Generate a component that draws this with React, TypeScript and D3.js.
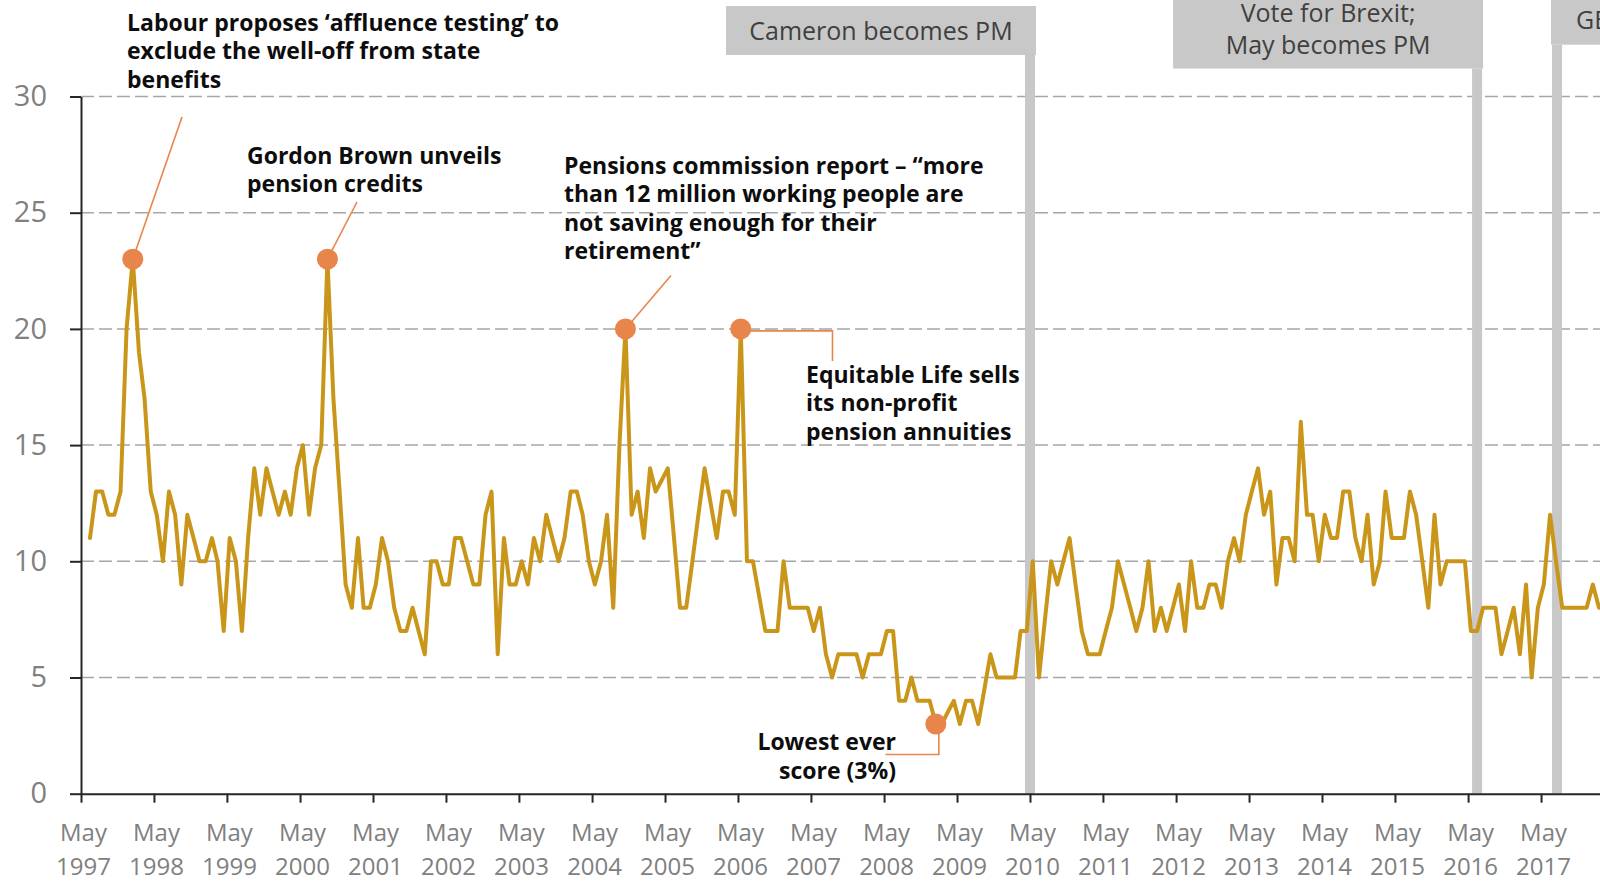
import React, { useEffect, useRef } from "react";
import * as d3 from "d3";

// Page
const WIDTH = 1600;
const HEIGHT = 881;

// Plot frame
const PLOT_LEFT = 81;
const PLOT_RIGHT = 1614;
const PLOT_TOP = 96.5;
const PLOT_BOTTOM = 793.7;

// Look
const FONT = "'Open Sans', sans-serif";
const LINE_COLOR = "#c9961a";
const MARK_COLOR = "#e8854b";
const BAR_COLOR = "#c8c8c8";
const GRID_COLOR = "#a6a6a6";
const AXIS_COLOR = "#262626";
const LABEL_GREY = "#808080";

// Axis extent and ticks
const AXIS_START = new Date(1997, 4, 1);
const AXIS_END = new Date(2018, 4, 1);
const TICK_YEARS = [
  1997, 1998, 1999, 2000, 2001, 2002, 2003, 2004, 2005, 2006, 2007,
  2008, 2009, 2010, 2011, 2012, 2013, 2014, 2015, 2016, 2017
];
const TICK_MONTH_LABEL = "May";
const Y_TICKS = [0, 5, 10, 15, 20, 25, 30];

// Monthly score (%), first reading mid June 1997
const FIRST_MONTH = new Date(1997, 5, 15);
const SCORES = [
  11, 13, 13, 12, 12, 13, 20, 23, 19, 17, 13, 12,
  10, 13, 12, 9, 12, 11, 10, 10, 11, 10, 7, 11,
  10, 7, 11, 14, 12, 14, 13, 12, 13, 12, 14, 15,
  12, 14, 15, 23, 17, 13, 9, 8, 11, 8, 8, 9,
  11, 10, 8, 7, 7, 8, 7, 6, 10, 10, 9, 9,
  11, 11, 10, 9, 9, 12, 13, 6, 11, 9, 9, 10,
  9, 11, 10, 12, 11, 10, 11, 13, 13, 12, 10, 9,
  10, 12, 8, 15, 20, 12, 13, 11, 14, 13, 13.5, 14,
  11, 8, 8, 10, 12, 14, 12.5, 11, 13, 13, 12, 20,
  10, 10, 8.5, 7, 7, 7, 10, 8, 8, 8, 8, 7,
  8, 6, 5, 6, 6, 6, 6, 5, 6, 6, 6, 7,
  7, 4, 4, 5, 4, 4, 4, 3, 3, 3.5, 4, 3,
  4, 4, 3, 4.5, 6, 5, 5, 5, 5, 7, 7, 10,
  5, 7.5, 10, 9, 10, 11, 9, 7, 6, 6, 6, 7,
  8, 10, 9, 8, 7, 8, 10, 7, 8, 7, 8, 9,
  7, 10, 8, 8, 9, 9, 8, 10, 11, 10, 12, 13,
  14, 12, 13, 9, 11, 11, 10, 16, 12, 12, 10, 12,
  11, 11, 13, 13, 11, 10, 12, 9, 10, 13, 11, 11,
  11, 13, 12, 10, 8, 12, 9, 10, 10, 10, 10, 7,
  7, 8, 8, 8, 6, 7, 8, 6, 9, 5, 8, 9,
  12, 10, 8, 8, 8, 8, 8, 9, 8, 8
];

// Political events marked by grey bars
const EVENT_DATES = [new Date(2010, 4, 1), new Date(2016, 5, 15), new Date(2017, 6, 20)];
const EVENT_TEXT = [
  ["Cameron becomes PM"],
  ["Vote for Brexit;", "May becomes PM"],
  ["GE 2017; May loses majority"]
];

// Highlighted readings (index into SCORES) and their notes
const CALLOUT_INDEX = [7, 39, 88, 107, 139];
const CALLOUT_TEXT = [
  ["Labour proposes \u2018affluence testing\u2019 to", "exclude the well-off from state", "benefits"],
  ["Gordon Brown unveils", "pension credits"],
  ["Pensions commission report \u2013 \u201cmore", "than 12 million working people are", "not saving enough for their", "retirement\u201d"],
  ["Equitable Life sells", "its non-profit", "pension annuities"],
  ["Lowest ever", "score (3%)"]
];

// Where the event boxes sit
const EVENT_LAYOUT = [
  { top: 6, bottom: 55, side: "left", align: "middle", baselines: [39.5] },
  { top: -10, bottom: 68.5, side: "left", align: "middle", baselines: [22, 53.5] },
  { top: -10, bottom: 44.7, side: "right", align: "start", baselines: [29] }
];
const BOX_WIDTH = 310;
const BAR_WIDTH = 10;

// Where the callout texts and leaders sit
const CALLOUT_LAYOUT = [
  { x: 127, y: 30.5, anchor: "start", leader: (cx, cy) => [[182, 117], [cx, cy]] },
  { x: 247, y: 163.5, anchor: "start", leader: (cx, cy) => [[357, 202], [cx, cy]] },
  { x: 564, y: 173.5, anchor: "start", leader: (cx, cy) => [[671, 275.5], [cx, cy]] },
  { x: 806, y: 382.5, anchor: "start", leader: (cx, cy) => [[cx, cy + 2], [832.5, cy + 2], [832.5, 361]] },
  { x: 896, y: 750, anchor: "end", leader: (cx, cy) => [[cx + 3, cy], [cx + 3, 754.5], [885.5, 754.5]] }
];
const CALLOUT_LINE_HEIGHT = 28.5;
const CALLOUT_FONT_SIZE = 23;
const MARK_RADIUS = 10.5;

export default function App() {
  const svgRef = useRef<SVGSVGElement | null>(null);

  useEffect(() => {
    drawChart();
  }, []);

  function drawChart() {
    const svg = d3.select(svgRef.current);
    svg.selectAll("*").remove();

    const x = d3.scaleTime().domain([AXIS_START, AXIS_END]).range([PLOT_LEFT, PLOT_RIGHT]);
    const y = d3.scaleLinear().domain([0, 30]).range([PLOT_BOTTOM, PLOT_TOP]);

    const points = SCORES.map((v, i) => ({
      date: d3.timeMonth.offset(FIRST_MONTH, i),
      value: v
    }));

    // dashed gridlines
    svg.append("g")
      .selectAll("line")
      .data(Y_TICKS.filter((t) => t > 0))
      .join("line")
      .attr("x1", PLOT_LEFT)
      .attr("x2", PLOT_RIGHT)
      .attr("y1", (d) => y(d))
      .attr("y2", (d) => y(d))
      .attr("stroke", GRID_COLOR)
      .attr("stroke-width", 1.5)
      .attr("stroke-dasharray", "13,5");

    // event bars
    EVENT_DATES.forEach((date, k) => {
      const lay = EVENT_LAYOUT[k];
      const cx = x(date);
      svg.append("rect")
        .attr("x", cx - BAR_WIDTH / 2)
        .attr("y", lay.bottom)
        .attr("width", BAR_WIDTH)
        .attr("height", y(0) - lay.bottom)
        .attr("fill", BAR_COLOR);
    });

    // series
    const line = d3.line<{ date: Date; value: number }>()
      .x((d) => x(d.date))
      .y((d) => y(d.value));
    svg.append("path")
      .datum(points)
      .attr("d", line)
      .attr("fill", "none")
      .attr("stroke", LINE_COLOR)
      .attr("stroke-width", 4)
      .attr("stroke-linejoin", "round")
      .attr("stroke-linecap", "round");

    // axes
    const yAxis = d3.axisLeft(y)
      .tickValues(Y_TICKS)
      .tickSize(11)
      .tickSizeOuter(0)
      .tickPadding(23)
      .tickFormat((d) => String(d));
    const gy = svg.append("g").attr("transform", `translate(${PLOT_LEFT},0)`).call(yAxis);
    gy.select(".domain").attr("stroke", AXIS_COLOR).attr("stroke-width", 2);
    gy.selectAll(".tick line").attr("stroke", AXIS_COLOR).attr("stroke-width", 2);
    gy.selectAll(".tick text")
      .attr("fill", LABEL_GREY)
      .style("font-family", FONT)
      .style("font-size", "29px");

    const tickDates = TICK_YEARS.map((yr) => new Date(yr, 4, 1));
    const xAxis = d3.axisBottom(x)
      .tickValues(tickDates)
      .tickSize(9)
      .tickSizeOuter(0)
      .tickFormat(() => "");
    const gx = svg.append("g").attr("transform", `translate(0,${PLOT_BOTTOM})`).call(xAxis);
    gx.select(".domain").attr("stroke", AXIS_COLOR).attr("stroke-width", 2);
    gx.selectAll(".tick line").attr("stroke", AXIS_COLOR).attr("stroke-width", 2);
    gx.selectAll(".tick text").remove();
    gx.selectAll(".tick").each(function (d: any) {
      const t = d3.select(this).append("text")
        .attr("fill", LABEL_GREY)
        .attr("text-anchor", "middle")
        .style("font-family", FONT)
        .style("font-size", "24px");
      t.append("tspan").attr("x", 2).attr("y", 47.5).text(TICK_MONTH_LABEL);
      t.append("tspan").attr("x", 2).attr("y", 81).text(String(d.getFullYear()));
    });

    // callout leaders, marks and notes
    CALLOUT_INDEX.forEach((idx, k) => {
      const p = points[idx];
      const cx = x(p.date);
      const cy = y(p.value);
      const lay = CALLOUT_LAYOUT[k];
      svg.append("path")
        .attr("d", d3.line()(lay.leader(cx, cy)))
        .attr("fill", "none")
        .attr("stroke", MARK_COLOR)
        .attr("stroke-width", 1.6);
      svg.append("circle")
        .attr("cx", cx)
        .attr("cy", cy)
        .attr("r", MARK_RADIUS)
        .attr("fill", MARK_COLOR);
      const txt = svg.append("text")
        .attr("text-anchor", lay.anchor)
        .attr("fill", "#0d0d0d")
        .style("font-family", FONT)
        .style("font-weight", 700)
        .style("font-size", CALLOUT_FONT_SIZE + "px");
      CALLOUT_TEXT[k].forEach((ln, j) => {
        txt.append("tspan")
          .attr("x", lay.x)
          .attr("y", lay.y + j * CALLOUT_LINE_HEIGHT)
          .text(ln);
      });
    });

    // event boxes
    EVENT_DATES.forEach((date, k) => {
      const lay = EVENT_LAYOUT[k];
      const cx = x(date);
      const boxLeft = lay.side === "left" ? cx + 6 - BOX_WIDTH : cx - 6;
      svg.append("rect")
        .attr("x", boxLeft)
        .attr("y", lay.top)
        .attr("width", BOX_WIDTH)
        .attr("height", lay.bottom - lay.top)
        .attr("fill", BAR_COLOR);
      const tx = lay.align === "middle" ? boxLeft + BOX_WIDTH / 2 : boxLeft + 25;
      const txt = svg.append("text")
        .attr("text-anchor", lay.align)
        .attr("fill", "#404040")
        .style("font-family", FONT)
        .style("font-size", "25px");
      EVENT_TEXT[k].forEach((ln, j) => {
        txt.append("tspan").attr("x", tx).attr("y", lay.baselines[j]).text(ln);
      });
    });
  }

  return (
    <svg
      ref={svgRef}
      width={WIDTH}
      height={HEIGHT}
      style={{ position: "absolute", left: 0, top: 0, background: "#fff", overflow: "hidden" }}
    ></svg>
  );
}
